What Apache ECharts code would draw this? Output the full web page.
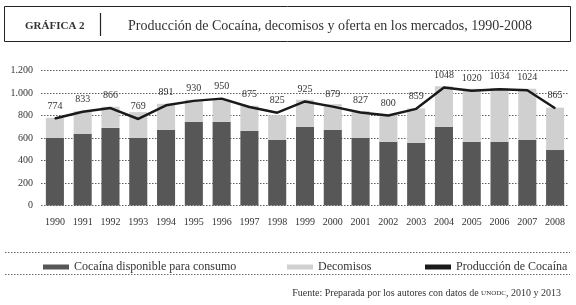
<!DOCTYPE html>
<html>
<head>
<meta charset="utf-8">
<script src="https://cdn.jsdelivr.net/npm/echarts@6/dist/echarts.min.js"></script>
<style>
    html, body { margin: 0; padding: 0; background: #fff; }
    #container { width: 576px; height: 305px; }
</style>
</head>
<body>
<div id="container"></div>
<script>
// datos
let years = ['1990', '1991', '1992', '1993', '1994', '1995', '1996', '1997', '1998', '1999',
    '2000', '2001', '2002', '2003', '2004', '2005', '2006', '2007', '2008'];
let disponible = [600, 638, 690, 600, 674, 745, 745, 665, 582, 700, 671, 600, 567, 558, 700, 567, 567, 582, 493];
let decomisos = [180, 200, 188, 230, 230, 195, 195, 222, 220, 240, 230, 240, 238, 305, 360, 470, 478, 455, 377];
let produccion = [774, 833, 866, 769, 891, 930, 950, 875, 825, 925, 879, 827, 800, 859, 1048, 1020, 1034, 1024, 865];
let yTicks = [0, 200, 400, 600, 800, 1000, 1200];

let serif = '"Liberation Serif", "DejaVu Serif", serif';

let dom = document.getElementById('container');
let myChart = echarts.init(dom);
let option = {
    animation: false,
    backgroundColor: '#fff',
    textStyle: { fontFamily: serif },
    title: [{
        text: 'GRÁFICA 2',
        left: 20,
        top: 16,
        textStyle: { fontFamily: serif, fontSize: 11, fontWeight: 'bold', color: '#333' }
    }, {
        text: 'Producción de Cocaína, decomisos y oferta en los mercados, 1990-2008',
        left: 123,
        top: 14,
        textStyle: { fontFamily: serif, fontSize: 14, fontWeight: 'normal', color: '#333' }
    }, {
        text: 'Fuente: Preparada por los autores con datos de {sc|UNODC}, 2010 y 2013',
        right: 10,
        top: 283,
        textStyle: {
            fontFamily: serif, fontSize: 10, fontWeight: 'normal', color: '#333',
            rich: { sc: { fontFamily: serif, fontSize: 7, color: '#333' } }
        }
    }],
    graphic: [{
        // marco del título
        type: 'rect',
        shape: { x: 4.5, y: 6.5, width: 566, height: 35 },
        style: { fill: 'none', stroke: '#222', lineWidth: 1 }
    }, {
        type: 'line',
        shape: { x1: 100.5, y1: 13, x2: 100.5, y2: 36 },
        style: { stroke: '#222', lineWidth: 1.2 }
    }, {
        // líneas punteadas de la leyenda
        type: 'line',
        shape: { x1: 5, y1: 252.5, x2: 570, y2: 252.5 },
        style: { stroke: '#444', lineWidth: 0.8, lineDash: [1.5, 1.5] }
    }, {
        type: 'line',
        shape: { x1: 5, y1: 274.5, x2: 570, y2: 274.5 },
        style: { stroke: '#444', lineWidth: 0.8, lineDash: [1.5, 1.5] }
    }],
    legend: [{
        data: ['Cocaína disponible para consumo'],
        left: 38, top: 256,
        icon: 'rect', itemWidth: 26, itemHeight: 5, itemGap: 10,
        textStyle: { fontFamily: serif, fontSize: 12, color: '#333' }
    }, {
        data: ['Decomisos'],
        left: 282, top: 256,
        icon: 'rect', itemWidth: 26, itemHeight: 5,
        textStyle: { fontFamily: serif, fontSize: 12, color: '#333' }
    }, {
        data: ['Producción de Cocaína'],
        left: 420, top: 256,
        icon: 'rect', itemWidth: 26, itemHeight: 5,
        textStyle: { fontFamily: serif, fontSize: 12, color: '#333' }
    }],
    grid: {
        left: 41,
        right: 7,
        top: 70.5,
        bottom: 99.5
    },
    xAxis: {
        type: 'category',
        data: years,
        axisLine: { show: false },
        axisTick: { show: false },
        axisLabel: { fontFamily: serif, fontSize: 10, color: '#333', margin: 12 }
    },
    yAxis: {
        type: 'value',
        min: yTicks[0],
        max: yTicks[yTicks.length - 1],
        interval: 200,
        axisLine: { show: false },
        axisTick: { show: false },
        axisLabel: {
            fontFamily: serif, fontSize: 10, color: '#333', margin: 8,
            formatter: function (value) {
                return String(value).replace(/\B(?=(\d{3})+(?!\d))/g, '.');
            }
        },
        splitLine: { lineStyle: { color: '#333', width: 0.8, type: [1.5, 1.5] } }
    },
    series: [{
        name: 'Cocaína disponible para consumo',
        type: 'bar',
        stack: 'total',
        barWidth: '65%',
        itemStyle: { color: '#575757' },
        data: disponible
    }, {
        name: 'Decomisos',
        type: 'bar',
        stack: 'total',
        itemStyle: { color: '#d0d0d0' },
        data: decomisos
    }, {
        name: 'Producción de Cocaína',
        type: 'line',
        symbol: 'circle',
        symbolSize: 1,
        showSymbol: true,
        z: 5,
        lineStyle: { color: '#1a1a1a', width: 2.5 },
        itemStyle: { color: '#1a1a1a' },
        label: {
            show: true,
            position: 'top',
            distance: 7,
            fontFamily: serif,
            fontSize: 10,
            color: '#333'
        },
        data: produccion
    }]
};
myChart.setOption(option, true);
</script>
</body>
</html>
